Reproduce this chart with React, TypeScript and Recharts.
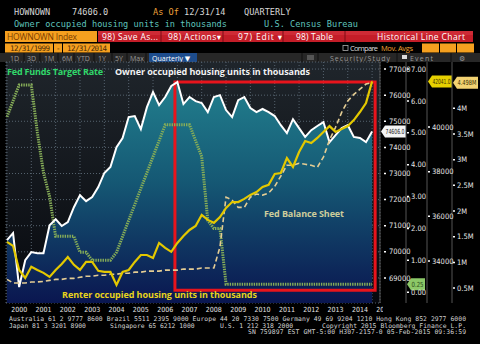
import React from "react";
import {
  ComposedChart,
  Area,
  Line,
  XAxis,
  YAxis,
  CartesianGrid,
  ReferenceArea,
  ReferenceLine,
} from "recharts";

const yearLabels = [
  "2000", "2001", "2002", "2003", "2004", "2005", "2006", "2007",
  "2008", "2009", "2010", "2011", "2012", "2013", "2014", "2015",
];

// quarterly points, 12/31/1999 .. 12/31/2014
const ownerOccupied = [
  70450, 70720, 68650, 69680, 69990, 69950, 69950, 71020, 71250, 70990,
  71140, 71710, 72170, 71940, 72100, 72480, 73020, 73250, 74010, 74360,
  75160, 75200, 74700, 75540, 76120, 75620, 75930, 76350, 76500, 75660,
  75930, 75770, 75700, 75350, 75930, 76000, 75430, 75160, 75810, 75930,
  75510, 75350, 75470, 75350, 75200, 74850, 74550, 75080, 74740, 74400,
  74660, 74820, 74970, 74200, 74470, 74740, 74850, 74400, 74360, 74200,
  74606,
];
const fedFundsRate = [
  5.5, 6.0, 6.5, 6.5, 6.5, 5.0, 3.75, 3.0, 1.75, 1.75,
  1.75, 1.75, 1.25, 1.25, 1.0, 1.0, 1.0, 1.0, 1.25, 1.75,
  2.25, 2.75, 3.25, 3.75, 4.25, 4.75, 5.25, 5.25, 5.25, 5.25,
  5.25, 4.75, 4.25, 2.25, 2.0, 2.0, 0.25, 0.25, 0.25, 0.25,
  0.25, 0.25, 0.25, 0.25, 0.25, 0.25, 0.25, 0.25, 0.25, 0.25,
  0.25, 0.25, 0.25, 0.25, 0.25, 0.25, 0.25, 0.25, 0.25, 0.25,
  0.25,
];
const renterOccupied = [
  34860, 34680, 33600, 33240, 33740, 33600, 33470, 33290, 33600, 33870,
  34180, 33830, 33600, 33960, 33960, 33560, 33510, 33510, 32930, 33510,
  33600, 33960, 34270, 34270, 34140, 34810, 34590, 34410, 34810, 35120,
  35390, 35570, 36060, 35840, 35710, 35970, 36380, 36640, 36640, 36780,
  36960, 37090, 37320, 37410, 37900, 37940, 38610, 38210, 38880, 39370,
  39280, 39510, 39780, 40040, 39780, 39910, 40040, 40310, 40670, 41070,
  42041,
];
// Fed balance sheet, millions of $mn ("M" on the axis)
const fedBalanceSheet = [
  0.67, 0.6, 0.6, 0.6, 0.62, 0.62, 0.63, 0.65, 0.67, 0.67,
  0.69, 0.69, 0.71, 0.73, 0.73, 0.75, 0.75, 0.77, 0.77, 0.79,
  0.79, 0.81, 0.81, 0.83, 0.83, 0.83, 0.85, 0.85, 0.85, 0.87,
  0.87, 0.87, 0.89, 0.89, 0.89, 1.3, 2.27, 2.21, 2.07, 2.07,
  2.27, 2.33, 2.31, 2.35, 2.48, 2.68, 2.89, 2.89, 2.93, 2.91,
  2.89, 2.85, 3.05, 3.38, 3.63, 3.92, 4.14, 4.27, 4.37, 4.47,
  4.498,
];

const ownerTicks = [69000, 70000, 71000, 72000, 73000, 74000, 75000, 76000, 77000];
const rateTicks = [0, 1, 2, 3, 4, 5, 6, 7];
const renterTicks = [34000, 36000, 38000, 40000];
const balanceTicks = [0.5, 1, 1.5, 2, 2.5, 3, 3.5, 4];

// highlight box (quarter index / owner axis units)
const boxX = [27.6, 60.5];
const boxY = [68530, 76500];

const footer1 =
  "Australia 61 2 9777 8600 Brazil 5511 2395 9000 Europe 44 20 7330 7500 Germany 49 69 9204 1210 Hong Kong 852 2977 6000";
const footer3 = "SN 759897 EST  GMT-5:00 H307-2157-0 05-Feb-2015 09:36:59";

const rows = ownerOccupied.map((v, i) => ({
  q: i,
  owner: v,
  rate: fedFundsRate[i],
  renter: renterOccupied[i],
  balance: fedBalanceSheet[i],
}));

const last = rows[rows.length - 1];
const quarterTicks = yearLabels.map((_, k) => k * 4).filter((t) => t <= 60);
const yearTicks = yearLabels.map((_, k) => k * 4 + 2);
const xDomain = [-0.16, 61.3];

// recharts stacks same-side axes by id order, so ids carry a prefix
const OWNER = "a_owner";
const RATE = "b_rate";
const RENTER = "c_renter";
const BALANCE = "d_balance";

const NARROW = "'Liberation Sans Narrow', 'DejaVu Sans Condensed', 'Roboto', sans-serif";
const MONO = "'DejaVu Sans Mono', 'Liberation Mono', monospace";
const SANS = "'Open Sans', 'DejaVu Sans', sans-serif";

function YearTick(props: any) {
  const { x, y, payload } = props;
  const k = (payload.value - 2) / 4;
  return (
    <text
      x={x}
      y={y + 8.5}
      textAnchor="middle"
      fill="#e4e4e4"
      fontSize={7}
      fontFamily={NARROW}
      clipPath="url(#yearClip)"
    >
      {yearLabels[k]}
    </text>
  );
}

function valueTag(text: string, bg: string, fg: string, dx: number, w: number) {
  return (props: any) => {
    const vb = props.viewBox;
    const x0 = vb.x + vb.width + dx;
    const y = vb.y;
    return (
      <g>
        <path
          d={`M${x0},${y} L${x0 + 4},${y - 6} H${x0 + w} V${y + 6} H${x0 + 4} Z`}
          fill={bg}
        />
        <text
          x={x0 + 4.5}
          y={y + 2.6}
          fill={fg}
          fontSize={7}
          fontFamily={NARROW}
          textLength={w - 6}
          lengthAdjust="spacingAndGlyphs"
        >
          {text}
        </text>
      </g>
    );
  };
}

const yTick = { fill: "#e6e6e6", fontSize: 7.5, fontFamily: NARROW };
const dotTick = { stroke: "#fff", strokeWidth: 1.5, strokeDasharray: "2 10" };

function Header() {
  const redItems: [string, number, number][] = [
    ["98) Save As...", 102, 56],
    ["98) Actions\u25BE", 168, 53],
    ["97) Edit \u25BE", 238, 44],
    ["98) Table", 296, 37],
  ];
  const buttons: [string, number][] = [
    ["1D", 10], ["3D", 27], ["1M", 44], ["6M", 62],
    ["YTD", 77], ["1Y", 98], ["5Y", 115], ["Max", 130],
  ];
  return (
    <svg width={480} height={344} style={{ position: "absolute", left: 0, top: 0 }}>
      <g fontFamily={MONO} fontSize={8.6} fill="#d6d6d6">
        <text x={14} y={15}>HOWNOWN</text>
        <text x={72} y={15}>{last.owner.toFixed(1)}</text>
        <text x={153} y={15} fill="#eea23a">As Of</text>
        <text x={184} y={15}>12/31/14</text>
        <text x={244} y={15}>QUARTERLY</text>
        <text x={14} y={27} fill="#5fc3bd" textLength={213}>
          Owner occupied housing units in thousands
        </text>
        <text x={264} y={27} fill="#5fc3bd" textLength={94}>U.S. Census Bureau</text>
      </g>

      <rect x={5} y={31} width={92} height={11} fill="#f5a01f" />
      <text x={7} y={40} fontFamily={SANS} fontSize={8.5} fill="#7a3c00" textLength={70}>
        HOWNOWN Index
      </text>
      <rect x={98} y={31} width={375} height={11} fill="#c41d28" />
      <rect x={98} y={31} width={375} height={4} fill="#d63640" opacity={0.6} />
      {[161, 223, 283, 345].map((x) => (
        <line key={x} x1={x} x2={x} y1={31} y2={42} stroke="#7c0d14" />
      ))}
      <g fontFamily={SANS} fontSize={8.5} fill="#fff">
        {redItems.map(([t, x, w]) => (
          <text key={t} x={x} y={40} textLength={w}>{t}</text>
        ))}
        <text x={377} y={40} textLength={88}>Historical Line Chart</text>
      </g>

      <rect x={5} y={43.5} width={48} height={9} fill="#f5a01f" />
      <rect x={54} y={43.5} width={8} height={9} fill="#f5a01f" />
      <rect x={63} y={43.5} width={47} height={9} fill="#f5a01f" />
      <g fontFamily={MONO} fontSize={7.5} fill="#4a2a08">
        <text x={10} y={51} textLength={40}>12/31/1999</text>
        <text x={56} y={51}>-</text>
        <text x={67} y={51} textLength={40}>12/31/2014</text>
      </g>
      <rect x={343} y={45.5} width={5} height={5} fill="none" stroke="#aaa" strokeWidth={0.8} />
      <text x={350} y={51} fontFamily={SANS} fontSize={7.5} fill="#ddd" textLength={28}>Compare</text>
      <text x={381} y={51} fontFamily={SANS} fontSize={7.5} fill="#f0a030" textLength={32}>Mov. Avgs</text>
      <rect x={422} y={43.5} width={17} height={9} fill="#f5a01f" />
      <rect x={440} y={43.5} width={16} height={9} fill="#f5a01f" />
      <rect x={457} y={43.5} width={17} height={9} fill="#f5a01f" />

      <rect x={0} y={53} width={480} height={9} fill="#272727" />
      <g fontFamily={SANS} fontSize={7} fill="#9a9a9a">
        {buttons.map(([t, x]) => (
          <text key={t} x={x} y={60.5}>{t}</text>
        ))}
        <text x={330} y={60.5} textLength={60}>Security/Study</text>
        <text x={410} y={60.5} textLength={23}>Event</text>
        <text x={459} y={61}>{"\u2699"}</text>
      </g>
      {[24, 40, 58, 74, 94, 112, 127, 146, 302, 318, 397, 451].map((x) => (
        <line key={x} x1={x} x2={x} y1={53} y2={62} stroke="#111" />
      ))}
      <rect x={149} y={53} width={48} height={9} fill="#1d4c8c" />
      <text x={152} y={60.5} fontFamily={SANS} fontSize={7} fill="#fff">
        {"Quarterly \u25BC"}
      </text>
      <rect x={307} y={55} width={7} height={5} fill="#555" />
      <rect x={402} y={55} width={5} height={4} fill="#ddd" />

      <g fontFamily={MONO} fontSize={6.4} fill="#d2d2d2">
        <text x={9} y={321} textLength={457}>{footer1}</text>
        <text x={9} y={327.5}>Japan 81 3 3201 8900</text>
        <text x={110} y={327.5}>Singapore 65 6212 1000</text>
        <text x={220} y={327.5}>U.S. 1 212 318 2000</text>
        <text x={322} y={327.5} textLength={144}>Copyright 2015 Bloomberg Finance L.P.</text>
        <text x={248} y={334} textLength={218}>{footer3}</text>
      </g>
    </svg>
  );
}

function Notes() {
  return (
    <svg
      width={480}
      height={344}
      style={{ position: "absolute", left: 0, top: 0, pointerEvents: "none" }}
    >
      <g fontFamily={SANS} fontWeight={700} fontSize={9}>
        <text x={7} y={75} fill="#31d86a" textLength={96}>Fed Funds Target Rate</text>
        <text x={115} y={75} fill="#f2f2f2" textLength={195}>
          Owner occupied housing units in thousands
        </text>
        <text x={264} y={217} fill="#cdcd9c" textLength={80}>Fed Balance Sheet</text>
        <text x={62} y={298} fill="#e8d41c" textLength={195}>
          Renter occupied housing units in thousands
        </text>
      </g>
    </svg>
  );
}

export default function App() {
  return (
    <div
      style={{
        position: "fixed",
        left: 0,
        top: 0,
        width: 480,
        height: 344,
        background: "#000",
        overflow: "hidden",
      }}
    >
      <Header />
      <div style={{ position: "absolute", left: 0, top: 0 }}>
        <ComposedChart
          width={480}
          height={344}
          data={rows}
          margin={{ top: 62, right: 0, bottom: 26, left: 6 }}
        >
          <defs>
            <linearGradient id="plotBg" x1="0" y1="0" x2="0" y2="1">
              <stop offset="0%" stopColor="#1f252b" />
              <stop offset="100%" stopColor="#07090e" />
            </linearGradient>
            <linearGradient id="ownerFill" x1="0" y1="0" x2="0" y2="1">
              <stop offset="0%" stopColor="#22808e" />
              <stop offset="45%" stopColor="#155874" />
              <stop offset="100%" stopColor="#0a1650" />
            </linearGradient>
            <clipPath id="yearClip">
              <rect x={0} y={296} width={383} height={30} />
            </clipPath>
          </defs>

          <CartesianGrid
            xAxisId="q"
            yAxisId={OWNER}
            fill="url(#plotBg)"
            stroke="#56636f"
            strokeDasharray="1 2"
          />

          <XAxis
            xAxisId="q"
            dataKey="q"
            type="number"
            domain={xDomain}
            allowDataOverflow
            ticks={quarterTicks}
            interval={0}
            height={0}
            tickSize={11}
            tick={() => <g />}
            tickLine={{ stroke: "#bbb" }}
            axisLine={{ stroke: "#666" }}
          />
          <XAxis
            xAxisId="yr"
            dataKey="q"
            type="number"
            domain={xDomain}
            allowDataOverflow
            ticks={yearTicks}
            interval={0}
            height={15}
            tickSize={0}
            tickMargin={0}
            tickLine={false}
            axisLine={false}
            tick={YearTick}
          />

          <YAxis
            yAxisId={OWNER}
            orientation="right"
            width={26}
            type="number"
            domain={[68040, 77270]}
            allowDataOverflow
            ticks={ownerTicks}
            interval={0}
            tickSize={6}
            tickMargin={3}
            tickLine={dotTick}
            axisLine={{ stroke: "#555" }}
            tick={yTick}
          />
          <YAxis
            yAxisId={RATE}
            orientation="right"
            width={21}
            type="number"
            domain={[-0.34, 7.22]}
            allowDataOverflow
            ticks={rateTicks}
            interval={0}
            tickSize={3}
            tickMargin={2}
            tickLine={dotTick}
            axisLine={{ stroke: "#555" }}
            tick={yTick}
            tickFormatter={(v: number) => v.toFixed(2)}
          />
          <YAxis
            yAxisId={RENTER}
            orientation="right"
            width={25}
            type="number"
            domain={[32120, 42910]}
            allowDataOverflow
            ticks={renterTicks}
            interval={0}
            tickSize={3}
            tickMargin={2}
            tickLine={dotTick}
            axisLine={{ stroke: "#555" }}
            tick={yTick}
          />
          <YAxis
            yAxisId={BALANCE}
            orientation="right"
            width={28}
            type="number"
            domain={[0.21, 4.9]}
            allowDataOverflow
            ticks={balanceTicks}
            interval={0}
            tickSize={3}
            tickMargin={2}
            tickLine={dotTick}
            axisLine={{ stroke: "#555" }}
            tick={yTick}
            tickFormatter={(v: number) => `${v}M`}
          />

          <Area
            xAxisId="q"
            yAxisId={OWNER}
            dataKey="owner"
            type="linear"
            stroke="none"
            fill="url(#ownerFill)"
            fillOpacity={1}
            dot={false}
            activeDot={false}
            isAnimationActive={false}
          />
          <Line
            xAxisId="q"
            yAxisId={RATE}
            dataKey="rate"
            type="linear"
            stroke="#86ad58"
            strokeWidth={3}
            strokeDasharray="1.4 1"
            dot={false}
            activeDot={false}
            isAnimationActive={false}
          />
          <Line
            xAxisId="q"
            yAxisId={OWNER}
            dataKey="owner"
            type="linear"
            stroke="#ffffff"
            strokeWidth={2}
            dot={false}
            activeDot={false}
            isAnimationActive={false}
          />
          <Line
            xAxisId="q"
            yAxisId={BALANCE}
            dataKey="balance"
            type="linear"
            stroke="#e4cd94"
            strokeWidth={1.6}
            strokeDasharray="5 3"
            dot={false}
            activeDot={false}
            isAnimationActive={false}
          />
          <Line
            xAxisId="q"
            yAxisId={RENTER}
            dataKey="renter"
            type="linear"
            stroke="#e3c800"
            strokeWidth={2.2}
            dot={false}
            activeDot={false}
            isAnimationActive={false}
          />

          <ReferenceArea
            xAxisId="q"
            yAxisId={OWNER}
            x1={boxX[0]}
            x2={boxX[1]}
            y1={boxY[0]}
            y2={boxY[1]}
            fill="none"
            stroke="#e8141c"
            strokeWidth={3}
          />

          <ReferenceLine
            xAxisId="q"
            yAxisId={OWNER}
            y={last.owner}
            stroke="none"
            label={valueTag(last.owner.toFixed(1), "#f4f4f4", "#222", 1, 25)}
          />
          <ReferenceLine
            xAxisId="q"
            yAxisId={RATE}
            y={last.rate}
            stroke="none"
            label={valueTag(last.rate.toFixed(2), "#8cc868", "#2b4a18", 27, 18)}
          />
          <ReferenceLine
            xAxisId="q"
            yAxisId={RENTER}
            y={last.renter}
            stroke="none"
            label={valueTag(last.renter.toFixed(1), "#e6d000", "#3a3000", 48, 24)}
          />
          <ReferenceLine
            xAxisId="q"
            yAxisId={BALANCE}
            y={last.balance}
            stroke="none"
            label={valueTag(`${last.balance.toFixed(3)}M`, "#f2d272", "#3a3000", 73, 25)}
          />
        </ComposedChart>
      </div>
      <Notes />
    </div>
  );
}
